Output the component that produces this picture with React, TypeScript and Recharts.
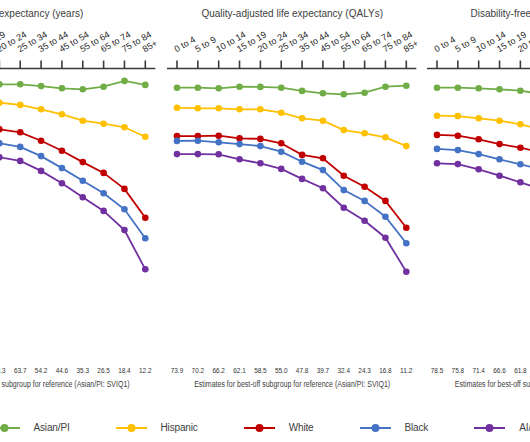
import { LineChart, Line, XAxis, YAxis } from 'recharts';

// age groups shared by all three panels
const AGES = ['0 to 4', '5 to 9', '10 to 14', '15 to 19', '20 to 24', '25 to 34', '35 to 44', '45 to 54', '55 to 64', '65 to 74', '75 to 84', '85+'];

// series (legend order)
const SERIES = [
  { key: 'asian', name: 'Asian/PI', color: '#70AD47' },
  { key: 'hispanic', name: 'Hispanic', color: '#FFC000' },
  { key: 'white', name: 'White', color: '#C00000' },
  { key: 'black', name: 'Black', color: '#4472C4' },
  { key: 'aian', name: 'AI/AN', color: '#7030A0' },
];

// values as % of the best-off reference subgroup
const LE_ASIAN = [96.0, 96.0, 96.05, 96.05, 96.05, 96.05, 95.6, 95.05, 94.8, 95.45, 96.9, 95.9];
const LE_HISPANIC = [91.7, 91.7, 91.6, 91.55, 91.45, 90.9, 89.8, 88.55, 86.95, 86.2, 85.3, 82.95];
const LE_WHITE = [85.3, 85.3, 85.2, 85.0, 84.8, 84.05, 81.95, 79.45, 76.6, 73.9, 69.9, 62.7];
const LE_BLACK = [81.9, 81.9, 81.8, 81.6, 81.3, 80.4, 78.1, 75.1, 71.95, 68.8, 64.8, 57.55];
const LE_AIAN = [78.4, 78.4, 78.3, 78.1, 77.8, 76.9, 74.4, 71.3, 67.8, 64.4, 59.6, 49.8];

const QALY_ASIAN = [95.2, 95.2, 95.05, 95.45, 95.4, 95.2, 94.4, 93.8, 93.55, 93.95, 95.45, 95.7];
const QALY_HISPANIC = [90.2, 90.05, 90.05, 89.8, 89.8, 88.95, 87.55, 86.95, 84.6, 83.8, 82.8, 80.6];
const QALY_WHITE = [83.1, 83.1, 83.2, 82.55, 82.4, 81.3, 78.4, 77.55, 73.2, 70.45, 66.9, 60.2];
const QALY_BLACK = [81.9, 81.95, 81.55, 81.1, 80.6, 79.2, 76.7, 74.6, 69.6, 66.9, 62.95, 56.3];
const QALY_AIAN = [78.6, 78.6, 78.55, 77.3, 76.3, 74.9, 72.4, 70.05, 65.2, 61.95, 57.7, 49.2];

const DFLE_ASIAN = [95.2, 95.2, 95.05, 94.8, 94.45, 93.6, 93.0, 92.6, 92.8, 93.6, 94.8, 95.0];
const DFLE_HISPANIC = [88.2, 88.1, 87.55, 86.95, 86.05, 84.8, 83.5, 82.3, 80.6, 79.4, 78.0, 76.2];
const DFLE_WHITE = [83.4, 83.2, 82.3, 81.1, 80.2, 79.0, 76.5, 74.0, 70.5, 67.5, 63.5, 57.5];
const DFLE_BLACK = [79.9, 79.6, 78.6, 77.3, 76.05, 74.8, 72.2, 69.6, 66.0, 62.8, 58.5, 52.5];
const DFLE_AIAN = [76.3, 76.1, 74.8, 73.2, 71.55, 69.8, 67.2, 64.3, 60.5, 56.8, 52.0, 45.0];

// estimates for the best-off subgroup (Asian/PI: SVIQ1)
const LE_REF = [87.3, 82.9, 78.0, 73.1, 68.3, 63.7, 54.2, 44.6, 35.3, 26.5, 18.4, 12.2];
const QALY_REF = [73.9, 70.2, 66.2, 62.1, 58.5, 55.0, 47.8, 39.7, 32.4, 24.3, 16.8, 11.2];
const DFLE_REF = [78.5, 75.8, 71.4, 66.6, 61.8, 57.3, 48.4, 39.6, 31.5, 23.1, 15.5, 10.1];

const TITLES = ['Life expectancy (years)', 'Quality-adjusted life expectancy (QALYs)', 'Disability-free life expectancy (DFLE)'];
const CAPTION = 'Estimates for best-off subgroup for reference (Asian/PI: SVIQ1)';

const PANELS = [
  { title: TITLES[0], ref: LE_REF, series: [LE_ASIAN, LE_HISPANIC, LE_WHITE, LE_BLACK, LE_AIAN] },
  { title: TITLES[1], ref: QALY_REF, series: [QALY_ASIAN, QALY_HISPANIC, QALY_WHITE, QALY_BLACK, QALY_AIAN] },
  { title: TITLES[2], ref: DFLE_REF, series: [DFLE_ASIAN, DFLE_HISPANIC, DFLE_WHITE, DFLE_BLACK, DFLE_AIAN] },
];

const PANEL_X0 = -98.9;
const PANEL_PITCH = 260.6;
const CHART_W = 261;
const AXIS_Y = 68.5;
const TEXT = '#404040';

function AgeTick(props: any) {
  const { x, payload } = props;
  return (
    <text
      transform={`translate(${x - 0.5},${AXIS_Y - 16}) rotate(-30)`}
      fontSize={9}
      fill="#262626"
      textAnchor="start"
    >
      {payload.value}
    </text>
  );
}

function makeRefTick(ref: number[]) {
  return (props: any) => {
    const i = AGES.indexOf(props.payload.value);
    return (
      <text
        x={props.x}
        y={373}
        fontSize={7.5}
        fill="#333"
        textAnchor="middle"
        textLength={12.5}
        lengthAdjust="spacingAndGlyphs"
      >
        {ref[i].toFixed(1)}
      </text>
    );
  };
}

function Panel({ ref, series }: { ref: number[]; series: number[][] }) {
  const rows = AGES.map((age, i) => {
    const row: any = { age };
    SERIES.forEach((s, k) => (row[s.key] = series[k][i]));
    return row;
  });
  return (
    <LineChart width={CHART_W} height={442} data={rows} margin={{ top: 0, right: 6.7, bottom: 63.5, left: 5 }}>
      <XAxis
        xAxisId="age"
        dataKey="age"
        orientation="top"
        height={AXIS_Y}
        interval={0}
        padding={{ left: 10, right: 10 }}
        tickSize={8}
        axisLine={{ stroke: '#3a3a3a', strokeWidth: 1.6 }}
        tickLine={{ stroke: '#3a3a3a', strokeWidth: 1.6 }}
        tick={<AgeTick />}
      />
      <XAxis
        xAxisId="ref"
        dataKey="age"
        orientation="bottom"
        height={30}
        interval={0}
        padding={{ left: 10, right: 10 }}
        axisLine={false}
        tickLine={false}
        tick={makeRefTick(ref)}
      />
      <YAxis hide domain={[30, 100]} />
      {SERIES.map((s) => (
        <Line
          key={s.key}
          xAxisId="age"
          dataKey={s.key}
          stroke={s.color}
          strokeWidth={1.8}
          dot={{ r: 3.3, fill: s.color, stroke: s.color, strokeWidth: 0 }}
          isAnimationActive={false}
        />
      ))}
    </LineChart>
  );
}

export default function App() {
  return (
    <div
      style={{
        position: 'absolute',
        left: 0,
        top: 0,
        width: 530,
        height: 442,
        overflow: 'hidden',
        background: '#fff',
        fontFamily: '"Liberation Sans", Arial, sans-serif',
      }}
    >
      {PANELS.map((p, i) => (
        <div key={i} style={{ position: 'absolute', left: PANEL_X0 + i * PANEL_PITCH, top: 0 }}>
          <Panel ref={p.ref} series={p.series} />
        </div>
      ))}
      <svg width={530} height={442} style={{ position: 'absolute', left: 0, top: 0, pointerEvents: 'none' }}>
        {PANELS.map((p, i) => {
          const cx = PANEL_X0 + i * PANEL_PITCH + 130.5;
          return (
            <g key={i}>
              <text x={cx} y={16.5} fontSize={10} fill={TEXT} textAnchor="middle">
                {p.title}
              </text>
              <text
                x={cx - 98}
                y={387}
                fontSize={8.5}
                fill={TEXT}
                textLength={196}
                lengthAdjust="spacingAndGlyphs"
              >
                {CAPTION}
              </text>
            </g>
          );
        })}
      </svg>
      <div
        style={{
          position: 'absolute',
          left: -11.5,
          top: 420.5,
          display: 'flex',
          alignItems: 'center',
          gap: 46,
          whiteSpace: 'nowrap',
        }}
      >
        {SERIES.map((s) => (
          <div key={s.key} style={{ display: 'flex', alignItems: 'center', gap: 14 }}>
            <svg width={31} height={14}>
              <line x1={0} y1={7} x2={31} y2={7} stroke={s.color} strokeWidth={2} />
              <circle cx={15.5} cy={7} r={4} fill={s.color} />
            </svg>
            <span style={{ fontSize: 10, letterSpacing: -0.15, color: TEXT, lineHeight: '14px' }}>{s.name}</span>
          </div>
        ))}
      </div>
    </div>
  );
}
